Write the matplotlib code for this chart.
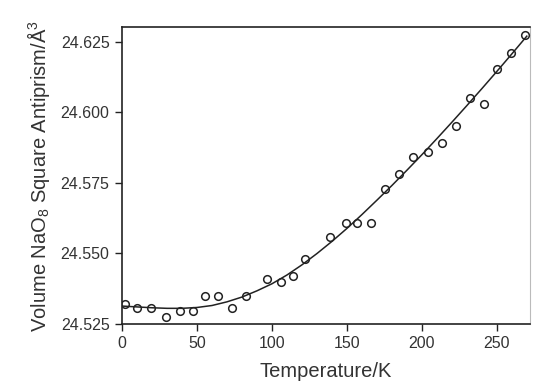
import matplotlib
matplotlib.use("Agg")
import matplotlib.pyplot as plt

plt.rcParams['font.family'] = ['Liberation Sans', 'DejaVu Sans']
plt.rcParams['mathtext.fontset'] = 'custom'
plt.rcParams['mathtext.rm'] = 'Liberation Sans'

# measured data
temp_k = [1.8, 10, 19.5, 29.5, 38.8, 47.3, 55.5, 64, 73.4, 83, 96.7, 106.3,
          113.8, 122, 138.6, 149.7, 156.6, 166, 175.4, 184.8, 194, 203.9,
          213.2, 222.5, 232, 241.3, 250.2, 259.7, 269]
volume = [24.5319, 24.5307, 24.5307, 24.5276, 24.5297, 24.5297, 24.5347,
          24.5347, 24.5307, 24.5347, 24.5408, 24.5398, 24.5418, 24.5479,
          24.5558, 24.5607, 24.5607, 24.5607, 24.5729, 24.5780, 24.5842,
          24.5859, 24.5889, 24.5951, 24.6051, 24.6030, 24.6152, 24.6211,
          24.6274]

# fitted curve
fit_t = [0, 10, 20, 30, 40, 50, 60, 70, 80, 90, 100, 110, 120, 130, 140,
         150, 160, 170, 180, 190, 200, 210, 220, 230, 240, 250, 260, 270]
fit_v = [24.5313, 24.5310, 24.5307, 24.5305, 24.5305, 24.5308, 24.5315,
         24.5328, 24.5345, 24.5367, 24.5392, 24.5423, 24.5459, 24.5499,
         24.5542, 24.5588, 24.5637, 24.5688, 24.5740, 24.5794, 24.5849,
         24.5906, 24.5964, 24.6023, 24.6083, 24.6144, 24.6206, 24.6269]

x_ticks = [0, 50, 100, 150, 200, 250]
y_ticks = [24.525, 24.550, 24.575, 24.600, 24.625]
y_tick_labels = ['24.525', '24.550', '24.575', '24.600', '24.625']

fig = plt.figure(figsize=(5.33, 3.86), dpi=100)
ax = fig.add_axes([0.229, 0.161, 0.765, 0.768])

ax.plot(fit_t, fit_v, color='#222222', lw=1.1, zorder=2)
ax.plot(temp_k, volume, ls='none', marker='o', ms=5.5, mfc='none',
        mec='#222222', mew=1.1, zorder=3)

ax.set_xlim(0, 272)
ax.set_ylim(24.525, 24.630)
ax.set_xticks(x_ticks)
ax.set_yticks(y_ticks)
ax.set_yticklabels(y_tick_labels)

ax.tick_params(direction='out', length=5, width=1, colors='#222222',
               labelsize=11.5, labelcolor='#333333', pad=4)
for s in ax.spines.values():
    s.set_linewidth(1.2)
    s.set_color('#222222')
ax.spines['right'].set_color('#bbbbbb')
ax.spines['right'].set_linewidth(0.8)

ax.set_xlabel('Temperature/K', fontsize=14.5, color='#333333', labelpad=8)
ax.set_ylabel(r'Volume NaO$\mathregular{_8}$ Square Antiprism/Å$\mathregular{^3}$',
              fontsize=14.5, color='#333333', labelpad=6)

fig.savefig('out.png', dpi=100)
